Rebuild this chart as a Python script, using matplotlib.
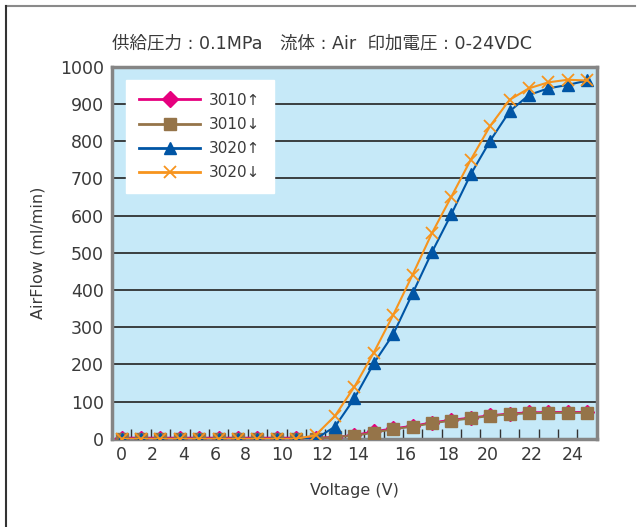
import numpy as np
import matplotlib.pyplot as plt
from matplotlib.lines import Line2D

plt.rcParams['font.family'] = ['DejaVu Sans', 'Noto Sans CJK JP']

# data: 25 measurement points (category axis)
idx = np.arange(25)
flow_3010_up = [3, 3, 3, 3, 3, 3, 3, 3, 3, 3, 3, 5, 10, 20, 28, 35, 44, 51, 57, 63, 68, 71, 72, 72, 72]
flow_3010_dn = [0, 0, 0, 0, 0, 0, 0, 0, 0, 0, 0, 6, 8, 17, 26, 33, 42, 49, 55, 62, 66, 69, 70, 70, 70]
flow_3020_up = [0, 0, 0, 0, 0, 0, 0, 0, 0, 0, 0, 33, 109, 203, 281, 391, 502, 604, 711, 801, 880, 924, 942, 951, 963]
flow_3020_dn = [0, 0, 0, 0, 0, 0, 0, 0, 0, 0, 10, 62, 140, 232, 333, 441, 553, 651, 750, 841, 911, 942, 958, 965, 963]

# x tick labels as they sit in the original (not evenly aligned)
xlabels = ["0", "2", "4", "6", "8", "10", "12", "14", "16", "18", "20", "22", "24"]
xlabel_pos = [0.0, 1.6, 3.18, 4.81, 6.39, 8.25, 10.36, 12.2, 14.6, 16.84, 18.9, 21.13, 23.28]

pink = "#E6007E"
brown = "#957449"
blue = "#0055A5"
orange = "#F7941D"
txt = "#3a3a3a"

fig = plt.figure(figsize=(6.38, 5.27), dpi=100)
ax = fig.add_axes([0.1755, 0.1672, 0.760, 0.7062])
ax.set_facecolor("#C6E9F8")

ax.plot(idx, flow_3010_up, color=pink, lw=1.5, marker="D", ms=7, mec=pink, mfc=pink, zorder=3)
ax.plot(idx, flow_3010_dn, color=brown, lw=1.5, marker="s", ms=8.5, mec=brown, mfc=brown, zorder=4)
ax.plot(idx, flow_3020_up, color=blue, lw=1.5, marker="^", ms=8.5, mec=blue, mfc=blue, zorder=5)
ax.plot(idx, flow_3020_dn, color=orange, lw=1.5, marker="x", ms=9, mew=1.3, zorder=6)

ax.set_xlim(-0.5, 24.5)
ax.set_ylim(0, 1000)
ax.set_yticks(np.arange(0, 1001, 100))
ax.yaxis.grid(True, color="#222222", lw=1.2)
ax.set_axisbelow(True)
ax.tick_params(axis="y", length=0, labelsize=12.5, labelcolor=txt, pad=6)

ax.set_xticks(xlabel_pos)
ax.set_xticklabels(xlabels)
ax.set_xticks(np.arange(0.5, 24.5, 1), minor=True)
ax.tick_params(axis="x", which="major", length=0, labelsize=12.5, labelcolor=txt, pad=5)
ax.tick_params(axis="x", which="minor", direction="in", length=7, color="#333333", width=1)

for s in ax.spines.values():
    s.set_color("#858585")
    s.set_linewidth(2.5)

ax.set_xlabel("Voltage (V)", fontsize=11.5, color=txt, labelpad=14)
ax.set_ylabel("AirFlow (ml/min)", fontsize=11.5, color=txt, labelpad=10)

fig.text(0.505, 0.918, "供給圧力 : 0.1MPa\u3000流体 : Air  印加電圧 : 0-24VDC",
         ha="center", va="center", fontsize=12.6, color=txt)

handles = [
    Line2D([], [], color=pink, lw=2, marker="D", ms=8, mfc=pink, mec=pink),
    Line2D([], [], color=brown, lw=2, marker="s", ms=9, mfc=brown, mec=brown),
    Line2D([], [], color=blue, lw=2, marker="^", ms=9, mfc=blue, mec=blue),
    Line2D([], [], color=orange, lw=2, marker="x", ms=9, mew=1.3),
]
leg = ax.legend(handles, ["3010↑", "3010↓", "3020↑", "3020↓"], loc="upper left",
                bbox_to_anchor=(0.029, 0.965), frameon=True, fancybox=False,
                framealpha=1, edgecolor="white", fontsize=11, handlelength=4.0,
                handletextpad=0.6, labelspacing=0.6, borderpad=0.85, borderaxespad=0)
for t in leg.get_texts():
    t.set_color(txt)
leg.set_zorder(10)

# outer frame (top and left only)
fig.add_artist(Line2D([0.0095, 0.995], [0.989, 0.989], transform=fig.transFigure, color="#8a8a8a", lw=1.5))
fig.add_artist(Line2D([0.0095, 0.0095], [0.0, 0.989], transform=fig.transFigure, color="#333333", lw=1.5))

fig.savefig("out.png", dpi=100, facecolor="white")
